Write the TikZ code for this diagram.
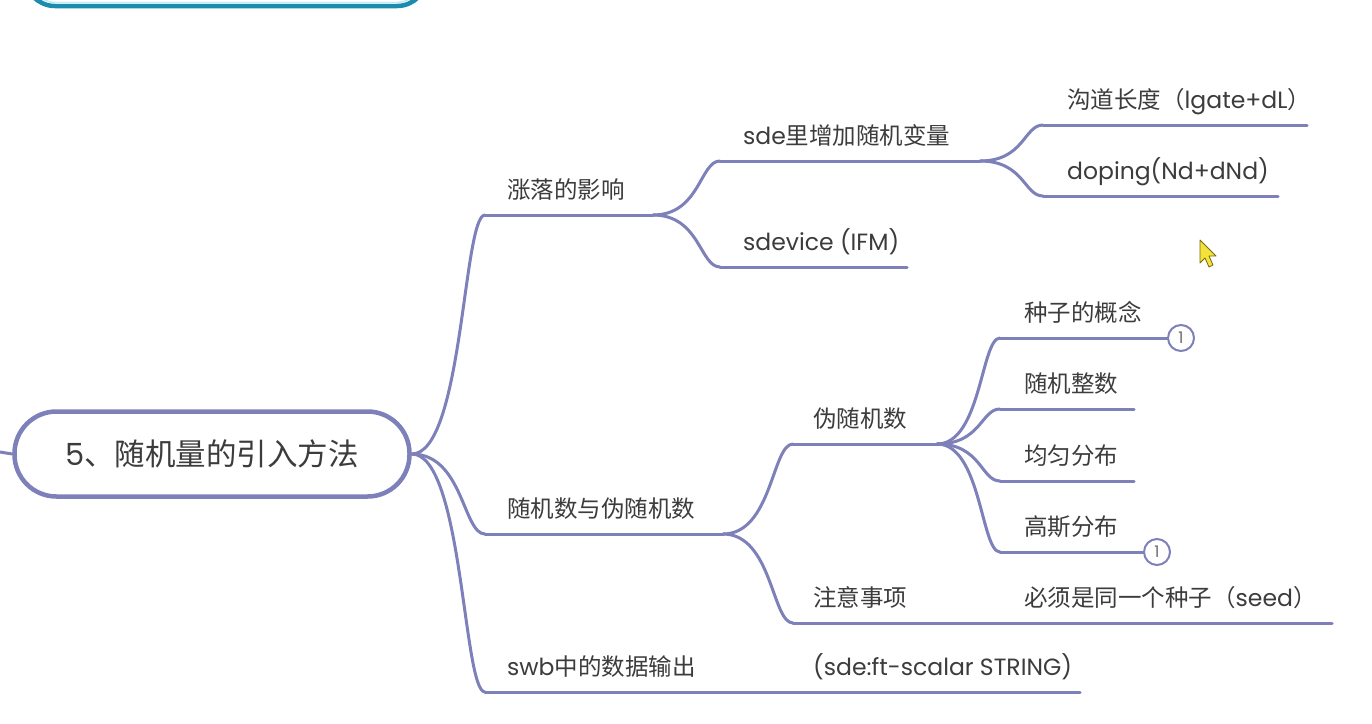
\documentclass[tikz,border=0pt]{standalone}
\usepackage{fontspec}
\setmainfont{Noto Sans CJK SC}
\newfontfamily\lat{Poppins}
\usetikzlibrary{calc}
\definecolor{mmline}{HTML}{7D80B9}
\definecolor{mmtext}{HTML}{3C3C3C}
\definecolor{tealc}{HTML}{1B8CAD}
\definecolor{tealin}{HTML}{BDEBF7}
\definecolor{curfill}{HTML}{F2E23A}
\definecolor{curdraw}{HTML}{7A6A10}
\tikzset{
  topic/.style={anchor=base west, inner sep=0pt, text=mmtext, font=\fontsize{23.5}{28}\selectfont},
  branchline/.style={draw=mmline, line width=3pt, line cap=round},
  rootnode/.style={draw=mmline, line width=4.5pt, fill=white, rounded corners=42pt,
    minimum width=395pt, minimum height=85pt, inner sep=0pt, text=mmtext,
    font=\fontsize{30.5}{34}\selectfont},
  marker/.style={circle, draw=mmline, line width=2pt, fill=white, minimum size=26pt,
    inner sep=0pt, text=mmtext!75, font=\lat\fontsize{16}{17}\selectfont},
}
\newcommand\mmlink[2]{\draw[branchline] let \p1=(#1), \p2=(#2), \n1={\x1+0.7*(\x2-\x1)} in (#1) .. controls (\n1,\y1) and (\n1,\y2) .. (#2);}
\begin{document}
\begin{tikzpicture}[x=1pt,y=-1pt]
\useasboundingbox (0,0) rectangle (1372,723);
\clip (0,0) rectangle (1372,723);
\fill[white] (0,0) rectangle (1372,723);
% partially visible box at the top
\draw[line width=4.5pt, tealc, rounded corners=30pt] (25,-80) rectangle (427,6);
\draw[line width=1.5pt, tealin, rounded corners=27pt] (28.5,-80) rectangle (423.5,2.5);
% root
\node[rootnode] (root) at (212,454) {{\lat 5}、随机量的引入方法};
\coordinate (left) at (0,452);
\draw[branchline] (left) -- (root.west);
% level 1 coordinates
\coordinate (A_s) at (485,215);  \coordinate (A_e) at (653,215);
\coordinate (B_s) at (485,534);  \coordinate (B_e) at (723,534);
\coordinate (C_s) at (485,692);  \coordinate (C_e) at (723,692);
% level 2
\coordinate (A1_s) at (720,161);  \coordinate (A1_e) at (980,161);
\coordinate (A2_s) at (720,267);  \coordinate (A2_e) at (907,267);
\coordinate (A11_s) at (1043,125); \coordinate (A11_e) at (1307,125);
\coordinate (A12_s) at (1043,196); \coordinate (A12_e) at (1278,196);
\coordinate (B1_s) at (793,444);  \coordinate (B1_e) at (937,444);
\coordinate (B2_s) at (793,623);  \coordinate (B2_e) at (937,623);
\coordinate (B11_s) at (1000,338);
\coordinate (B12_s) at (1000,409); \coordinate (B12_e) at (1134,409);
\coordinate (B13_s) at (1000,481); \coordinate (B13_e) at (1134,481);
\coordinate (B14_s) at (1000,552);
\coordinate (B21_s) at (1000,623); \coordinate (B21_e) at (1332,623);
\coordinate (C1_s) at (793,692);  \coordinate (C1_e) at (1080,692);
% markers
\node[marker] (m1) at (1181,338) {1};
\node[marker] (m2) at (1157,552) {1};
% connectors
\mmlink{root.east}{A_s}
\mmlink{root.east}{B_s}
\mmlink{root.east}{C_s}
\mmlink{A_e}{A1_s}
\mmlink{A_e}{A2_s}
\mmlink{A1_e}{A11_s}
\mmlink{A1_e}{A12_s}
\mmlink{B_e}{B1_s}
\mmlink{B_e}{B2_s}
\mmlink{B1_e}{B11_s}
\mmlink{B1_e}{B12_s}
\mmlink{B1_e}{B13_s}
\mmlink{B1_e}{B14_s}
\draw[branchline] (B2_e) -- (B21_s);
\draw[branchline] (C_e) -- (C1_s);
% underlines
\draw[branchline] (A_s) -- (A_e);
\draw[branchline] (B_s) -- (B_e);
\draw[branchline] (C_s) -- (C_e);
\draw[branchline] (A1_s) -- (A1_e);
\draw[branchline] (A2_s) -- (A2_e);
\draw[branchline] (A11_s) -- (A11_e);
\draw[branchline] (A12_s) -- (A12_e);
\draw[branchline] (B1_s) -- (B1_e);
\draw[branchline] (B2_s) -- (B2_e);
\draw[branchline] (B11_s) -- (m1.west);
\draw[branchline] (B12_s) -- (B12_e);
\draw[branchline] (B13_s) -- (B13_e);
\draw[branchline] (B14_s) -- (m2.west);
\draw[branchline] (B21_s) -- (B21_e);
\draw[branchline] (C1_s) -- (C1_e);
% texts
\node[topic] (A) at (507,198) {涨落的影响};
\node[topic] (B) at (507,517) {随机数与伪随机数};
\node[topic] (C) at (507,675) {{\lat swb}中的数据输出};
\node[topic] (A1) at (743,144) {{\lat sde}里增加随机变量};
\node[topic] (A2) at (743,250) {\lat sdevice (IFM)};
\node[topic] (A11) at (1067,108) {沟道长度（{\lat lgate+dL}）};
\node[topic] (A12) at (1067,179) {\lat doping(Nd+dNd)};
\node[topic] (B1) at (813,427) {伪随机数};
\node[topic] (B2) at (813,606) {注意事项};
\node[topic] (B11) at (1024,321) {种子的概念};
\node[topic] (B12) at (1024,392) {随机整数};
\node[topic] (B13) at (1024,464) {均匀分布};
\node[topic] (B14) at (1024,535) {高斯分布};
\node[topic] (B21) at (1024,606) {必须是同一个种子（{\lat seed}）};
\node[topic] (C1) at (813,675) {\lat (sde:ft-scalar STRING)};
% mouse pointer
\filldraw[fill=curfill, draw=curdraw, line width=0.8pt, line join=round]
  (1200,240) -- (1200,263) -- (1205,258) -- (1209,267) -- (1213,265) -- (1209,256) -- (1216,256) -- cycle;
\end{tikzpicture}
\end{document}
